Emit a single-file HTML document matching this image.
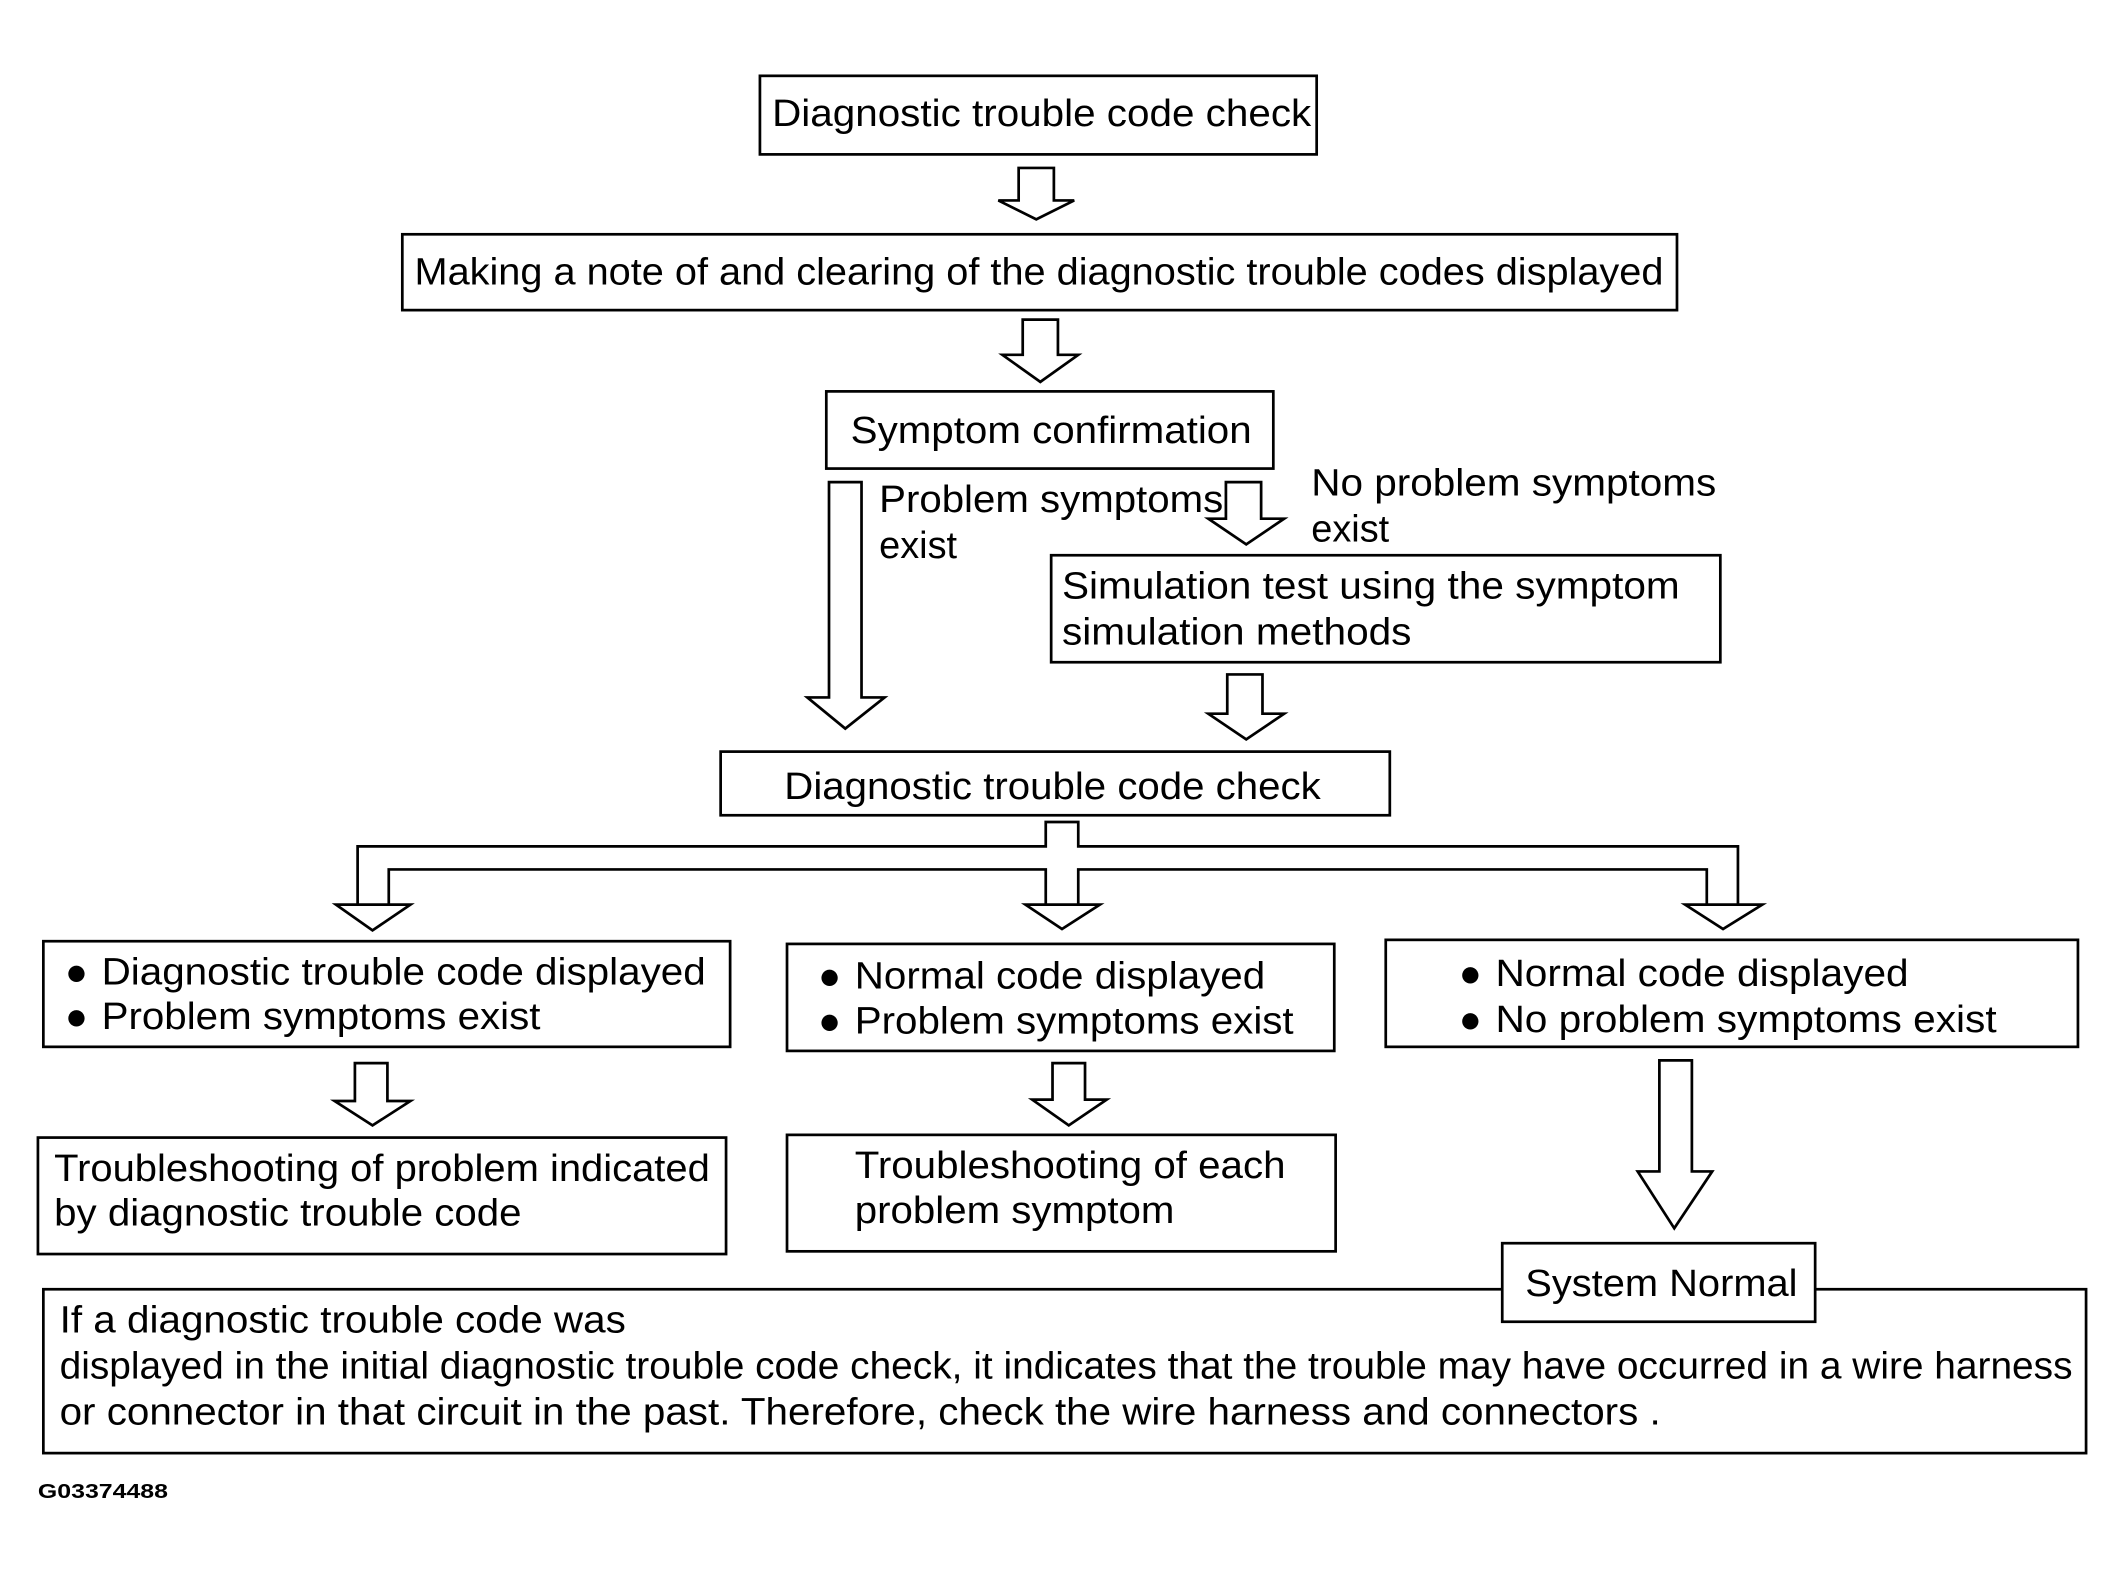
<!DOCTYPE html>
<html><head><meta charset="utf-8"><style>html,body{margin:0;padding:0;background:#fff}svg{display:block}</style></head>
<body>
<svg width="2124" height="1575" viewBox="0 0 1568 1163" preserveAspectRatio="none" xmlns="http://www.w3.org/2000/svg">
<g fill="#fff" stroke="#000" stroke-width="2">
<rect x="561" y="56" width="411" height="58"/>
<rect x="297" y="173" width="941" height="56"/>
<rect x="610" y="289" width="330" height="57"/>
<rect x="776" y="410" width="494" height="79"/>
<rect x="532" y="555" width="494" height="47"/>
<rect x="32" y="695" width="507" height="78"/>
<rect x="581" y="697" width="404" height="79"/>
<rect x="1023" y="694" width="511" height="79"/>
<rect x="28" y="840" width="508" height="86"/>
<rect x="581" y="838" width="405" height="86"/>
<rect x="32" y="952" width="1508" height="121"/>
<rect x="1109" y="918" width="231" height="58"/>
<path d="M752,124 H778 V148 H793 L765,162 L737,148 H752 Z"/>
<path d="M755,236 H781 V262 H796 L768,282 L740,262 H755 Z"/>
<path d="M612,356 H636 V515 H653 L624,538 L596,515 H612 Z"/>
<path d="M905,356 H931 V383 H948 L920,402 L892,383 H905 Z"/>
<path d="M906,498 H932 V527 H948 L920,546 L892,527 H906 Z"/>
<path d="M262,785 H286 V813 H303 L275,831 L247,813 H262 Z"/>
<path d="M777,785 H801 V812 H817 L789,831 L762,812 H777 Z"/>
<path d="M1225,783 H1249 V865 H1264 L1236,907 L1209,865 H1225 Z"/>
<path fill="none" d="M264,668 V625 H772 V607 H796 V625 H1283 V668"/>
<path fill="none" d="M287,668 V642 H772 V668 M796,668 V642 H1260 V668"/>
<path d="M248,668 H303 L275,687 Z"/>
<path d="M757,668 H812 L784,686 Z"/>
<path d="M1244,668 H1301 L1272,686 Z"/>
</g>
<g font-family="Liberation Sans, Arial, sans-serif" font-size="28" fill="#000">
<text x="570" y="93" textLength="398" lengthAdjust="spacingAndGlyphs">Diagnostic trouble code check</text>
<text x="306" y="210" textLength="922" lengthAdjust="spacingAndGlyphs">Making a note of and clearing of the diagnostic trouble codes displayed</text>
<text x="628" y="327" textLength="296" lengthAdjust="spacingAndGlyphs">Symptom confirmation</text>
<text x="649" y="378" textLength="254" lengthAdjust="spacingAndGlyphs">Problem symptoms</text>
<text x="649" y="412">exist</text>
<text x="968" y="366" textLength="299" lengthAdjust="spacingAndGlyphs">No problem symptoms</text>
<text x="968" y="400">exist</text>
<text x="784" y="442" textLength="456" lengthAdjust="spacingAndGlyphs">Simulation test using the symptom</text>
<text x="784" y="476" textLength="258" lengthAdjust="spacingAndGlyphs">simulation methods</text>
<text x="579" y="590" textLength="396" lengthAdjust="spacingAndGlyphs">Diagnostic trouble code check</text>
<text x="48" y="727">●</text><text x="75" y="727" textLength="446" lengthAdjust="spacingAndGlyphs">Diagnostic trouble code displayed</text>
<text x="48" y="760">●</text><text x="75" y="760" textLength="324" lengthAdjust="spacingAndGlyphs">Problem symptoms exist</text>
<text x="604" y="730">●</text><text x="631" y="730" textLength="303" lengthAdjust="spacingAndGlyphs">Normal code displayed</text>
<text x="604" y="763">●</text><text x="631" y="763" textLength="324" lengthAdjust="spacingAndGlyphs">Problem symptoms exist</text>
<text x="1077" y="728">●</text><text x="1104" y="728" textLength="305" lengthAdjust="spacingAndGlyphs">Normal code displayed</text>
<text x="1077" y="762">●</text><text x="1104" y="762" textLength="370" lengthAdjust="spacingAndGlyphs">No problem symptoms exist</text>
<text x="40" y="872" textLength="484" lengthAdjust="spacingAndGlyphs">Troubleshooting of problem indicated</text>
<text x="40" y="905" textLength="345" lengthAdjust="spacingAndGlyphs">by diagnostic trouble code</text>
<text x="631" y="870" textLength="318" lengthAdjust="spacingAndGlyphs">Troubleshooting of each</text>
<text x="631" y="903" textLength="236" lengthAdjust="spacingAndGlyphs">problem symptom</text>
<text x="1126" y="957" textLength="201" lengthAdjust="spacingAndGlyphs">System Normal</text>
<text x="44" y="984" textLength="418" lengthAdjust="spacingAndGlyphs">If a diagnostic trouble code was</text>
<text x="44" y="1018" textLength="1486" lengthAdjust="spacingAndGlyphs">displayed in the initial diagnostic trouble code check, it indicates that the trouble may have occurred in a wire harness</text>
<text x="44" y="1052" textLength="1182" lengthAdjust="spacingAndGlyphs">or connector in that circuit in the past. Therefore, check the wire harness and connectors .</text>
<text x="28" y="1106" font-size="15" font-weight="bold" textLength="96" lengthAdjust="spacingAndGlyphs">G03374488</text>
</g>
</svg>
</body></html>
